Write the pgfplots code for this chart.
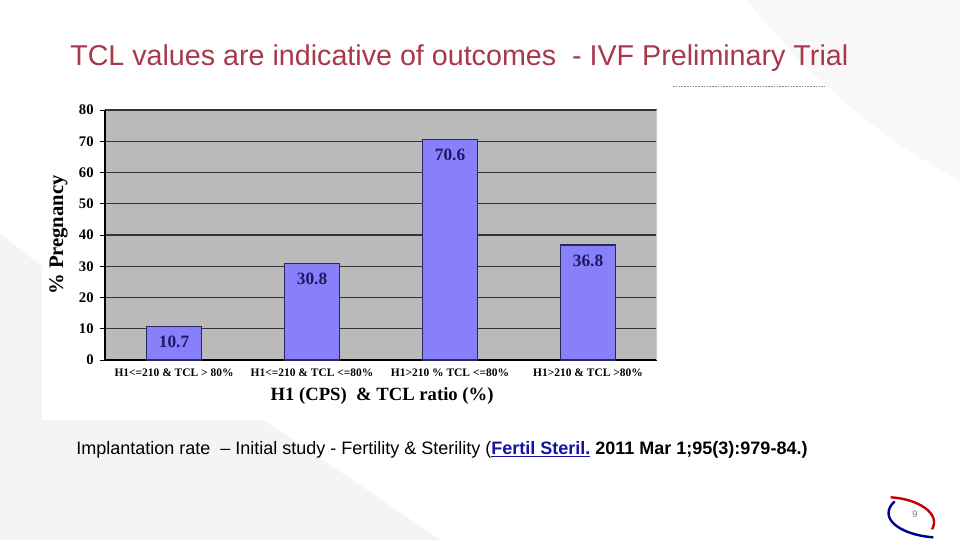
\documentclass[border=0pt]{standalone}
\usepackage{fontspec}
\setmainfont{Liberation Serif}
\newfontfamily\arial{Liberation Sans}
\usepackage{pgfplots}
\pgfplotsset{compat=1.18}
\definecolor{titlered}{RGB}{168,56,74}
\definecolor{plotbg}{RGB}{186,186,186}
\definecolor{barfill}{RGB}{136,128,250}
\definecolor{bardraw}{RGB}{40,40,90}
\definecolor{navy}{RGB}{25,25,100}
\definecolor{linkblue}{RGB}{20,20,160}
\definecolor{swoosh}{RGB}{244,244,246}
\begin{document}
\begin{tikzpicture}[x=1pt,y=1pt]
% slide background
\fill[white] (0,0) rectangle (720,405);
\fill[swoosh] (0,0) -- (0,230) .. controls (60,180) and (200,90) .. (330,0) -- cycle;
\fill[swoosh!60!white] (560,405) .. controls (620,330) and (680,290) .. (720,270) -- (720,405) -- cycle;
% chart image background
\fill[white] (31.5,90) rectangle (502.5,333.75);
% title
\node[anchor=base west, inner sep=0pt, font=\arial\fontsize{21.5}{24}\selectfont, text=titlered] at (52.5,355.5) {TCL values are indicative of outcomes\ \ - IVF Preliminary Trial};
% dotted line
\draw[gray!90, dash pattern=on 1.2pt off 0.9pt, line width=0.6pt] (504.75,340) -- (618.75,340);
\begin{axis}[
  at={(78.75pt,135pt)}, anchor=south west,
  width=414pt, height=187.5pt, scale only axis,
  xmin=-0.5, xmax=3.5, ymin=0, ymax=80,
  ytick={0,10,...,80},
  xtick={0,1,2,3},
  xticklabels={H1<=210 \& TCL > 80\%, H1<=210 \& TCL <=80\%, H1>210 \% TCL <=80\%, H1>210 \& TCL >80\%},
  major x tick style={draw=none},
  extra x ticks={-0.5,0.5,1.5,2.5,3.5},
  extra x tick labels={},
  extra x tick style={major tick length=5pt, tick align=outside, major tick style={draw=black, line width=0.6pt}, grid=none},
  tick align=outside,
  major tick length=4pt,
  ytick style={black, line width=0.6pt},
  /pgf/number format/assume math mode=true,
  yticklabel style={font=\bfseries\fontsize{11}{12}\selectfont, xshift=-1pt},
  xticklabel style={font=\bfseries\fontsize{8.6}{10}\selectfont, yshift=1pt},
  axis x line*=bottom, axis y line*=left,
  axis line style={-, black, line width=0.8pt},
  axis background/.style={fill=plotbg},
  ymajorgrids, grid style={black!80, line width=1pt},
  ylabel={\% Pregnancy},
  ylabel style={font=\bfseries\fontsize{15.5}{17}\selectfont, at={(axis description cs:-0.084,0.5)}, anchor=center, rotate=0},
  xlabel={H1 (CPS)\ \ \& TCL ratio (\%)},
  xlabel style={font=\bfseries\fontsize{14}{16}\selectfont, at={(axis description cs:0.502,-0.144)}, anchor=center},
  ybar, bar width=0.4,
  nodes near coords={\pgfmathprintnumber[fixed,precision=1]{\pgfplotspointmeta}},
  nodes near coords align={below},
  every node near coord/.append style={font=\bfseries\fontsize{13}{15}\selectfont, text=navy, yshift=-3.5pt},
]
\addplot[fill=barfill, draw=bardraw, line width=0.8pt] coordinates {(0,10.7) (1,30.8) (2,70.6) (3,36.8)};
\draw[gray!40, line width=0.8pt] (axis cs:3.5,0) -- (axis cs:3.5,80);
\end{axis}
% caption
\node[anchor=west, inner sep=0pt, font=\arial\fontsize{13.5}{15}\selectfont] at (57,67.5) {Implantation rate\ \ – Initial study - Fertility \& Sterility (\textcolor{linkblue}{\bfseries\underline{Fertil Steril.}} \textbf{2011 Mar 1;95(3):979-84.)}};
% page number and logo
\draw[red!75!black, line width=1.8pt] (668,32) .. controls (688,31) and (706,20) .. (699,8);
\draw[blue!55!black, line width=1.8pt] (671,29) .. controls (658,17) and (674,4) .. (700,2);
\node[font=\arial\fontsize{7}{8}\selectfont, text=gray] at (686.25,19) {9};
\end{tikzpicture}
\end{document}
